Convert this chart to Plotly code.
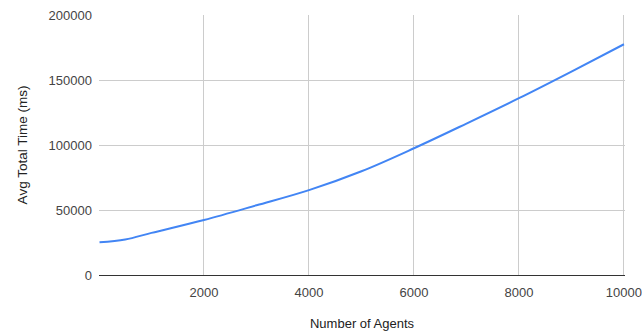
import plotly.graph_objects as go

# Average total run time measured for each agent count
agents = [10, 500, 1000, 2000, 3000, 4000, 5000, 6000, 7000, 8000, 9000, 10000]
avg_total_ms = [25150, 27300, 32400, 42300, 53600, 65300, 79800, 97500, 116500, 136000, 156500, 177500]

x_ticks = [2000, 4000, 6000, 8000, 10000]
y_ticks = [0, 50000, 100000, 150000, 200000]

font_family = "Liberation Sans, Arial, sans-serif"

fig = go.Figure(
    go.Scatter(
        x=agents,
        y=avg_total_ms,
        mode="lines",
        line=dict(color="#4285F4", width=2, shape="spline", smoothing=1.0),
        hoverinfo="x+y",
    )
)

fig.update_layout(
    width=642,
    height=331,
    margin=dict(l=99, r=17, t=15, b=56),
    paper_bgcolor="white",
    plot_bgcolor="white",
    showlegend=False,
    font=dict(family=font_family, size=13, color="#444444"),
)

fig.update_xaxes(
    range=[0, 10020],
    tickvals=x_ticks,
    ticktext=[str(v) for v in x_ticks],
    ticklabeloverflow="allow",
    showgrid=True,
    gridcolor="#cccccc",
    gridwidth=1,
    zeroline=False,
    showline=False,
    ticks="",
    ticklabelstandoff=8,
    automargin=False,
    title=dict(text="Number of Agents", font=dict(size=13, color="#222222"), standoff=20),
)

fig.update_yaxes(
    range=[0, 200000],
    tickvals=y_ticks,
    ticktext=[str(v) for v in y_ticks],
    showgrid=True,
    gridcolor="#cccccc",
    gridwidth=1,
    zeroline=True,
    zerolinecolor="#333333",
    zerolinewidth=1,
    showline=False,
    ticks="",
    ticklabelstandoff=6,
    automargin=False,
    title=dict(text="Avg Total Time (ms)", font=dict(size=13.5, color="#222222"), standoff=17),
)

fig.write_html("out.html")
